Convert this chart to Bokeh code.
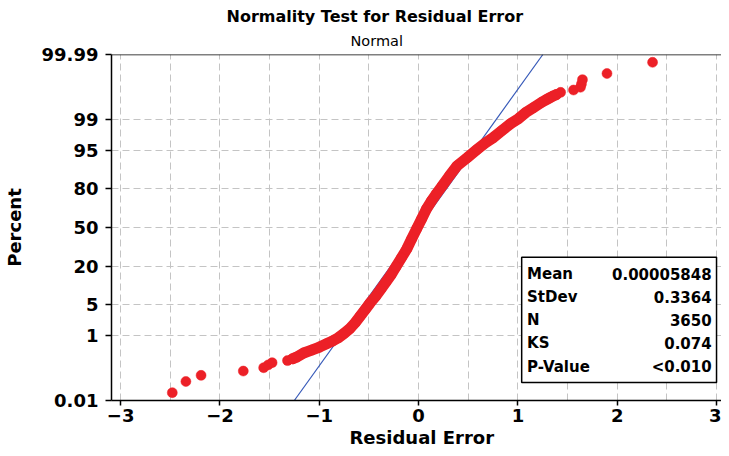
from statistics import NormalDist
from bokeh.plotting import figure
from bokeh.models import FixedTicker, Range1d, Title, BoxAnnotation, Label, Span
from bokeh.embed import file_html
from bokeh.resources import INLINE

# ---- data ----
# cumulative percent (probability-plot position) of each plotted residual
pct = [0.0192, 0.0466, 0.0740, 0.1014, 0.1288, 0.1561, 0.1835, 0.2109, 0.2383, 0.2657,
       0.35, 0.42, 0.51, 0.62, 0.73, 0.89, 1.15, 1.52, 2.04, 2.84,
       3.88, 5.21, 6.88, 9.29, 12.06, 15.35, 19.8, 25.6, 32.2, 40.3,
       48.8, 57.3, 65.6, 71.7, 76.5, 81.5, 86.9, 90.8, 93.3, 95.3,
       96.5, 97.3, 98.13, 98.72, 99.04, 99.32, 99.50, 99.64, 99.71,
       99.7343, 99.7617, 99.7891, 99.8165, 99.8439, 99.8713, 99.8986, 99.9260, 99.9534, 99.9808]
resid = [-2.48, -2.343, -2.19, -1.765, -1.56, -1.515, -1.475, -1.32, -1.27, -1.23,
         -1.157, -1.077, -0.997, -0.927, -0.867, -0.808, -0.748, -0.688, -0.638, -0.588,
         -0.538, -0.489, -0.434, -0.379, -0.329, -0.279, -0.229, -0.174, -0.119, -0.070,
         -0.020, 0.030, 0.080, 0.130, 0.179, 0.239, 0.314, 0.389, 0.489, 0.588,
         0.668, 0.748, 0.837, 0.927, 1.007, 1.077, 1.157, 1.236, 1.296,
         1.32, 1.35, 1.39, 1.43, 1.56, 1.63, 1.64, 1.65, 1.897, 2.356]

stat_names = ["Mean", "StDev", "N", "KS", "P-Value"]
stat_values = ["0.00005848", "0.3364", "3650", "0.074", "<0.010"]
mean = 0.00005848
stdev = 0.3364

x_ticks = [-3, -2, -1, 0, 1, 2, 3]
x_grid = [-3, -2.5, -2, -1.5, -1, -0.5, 0, 0.5, 1, 1.5, 2, 2.5, 3]
y_tick_pct = [0.01, 1, 5, 20, 50, 80, 95, 99, 99.99]
y_tick_labels = ["0.01", "1", "5", "20", "50", "80", "95", "99", "99.99"]

# ---- probability scale ----
nd = NormalDist()
def pz(v):
    return nd.inv_cdf(v / 100.0)

ys = [pz(v) for v in pct]
y_lo, y_hi = pz(0.01), pz(99.99)

RED = "#EC2027"
BLUE = "#3558B8"
FONT = "DejaVu Sans"

p = figure(width=721, height=448, output_backend="svg", toolbar_location=None,
           title=None,
           x_range=Range1d(-3.092, 3.05), y_range=Range1d(y_lo, y_hi),
           min_border_left=105, min_border_right=0, min_border_top=54, min_border_bottom=0,
           background_fill_color="white", border_fill_color="white")

p.add_layout(Title(text="Normal", align="left", offset=239, text_font=FONT,
                   text_font_size="14.5px", text_font_style="normal", text_color="black",
                   text_line_height=0.8, standoff=11), "above")
p.add_layout(Title(text="Normality Test for Residual Error", align="left", offset=115,
                   text_font=FONT, text_font_size="16px", text_font_style="bold",
                   text_color="black", standoff=0), "above")
p.add_layout(Title(text="Residual Error", align="left", offset=238,
                   text_font=FONT, text_font_size="18px", text_font_style="bold",
                   text_color="black", standoff=1), "below")

p.outline_line_color = None
p.add_layout(Span(location=y_hi, dimension="width", line_color="black", line_width=1.5))

# axes
for ax in (p.xaxis[0], p.yaxis[0]):
    ax.axis_line_color = "black"
    ax.axis_line_width = 1.5
    ax.major_tick_line_color = "black"
    ax.major_tick_line_width = 1.5
    ax.major_tick_out = 6
    ax.major_tick_in = 0
    ax.minor_tick_line_color = None
    ax.major_label_text_font = FONT
    ax.major_label_text_font_style = "bold"
    ax.major_label_text_font_size = "18px"
    ax.major_label_text_color = "black"
    ax.axis_label_text_font = FONT
    ax.axis_label_text_font_style = "bold"
    ax.axis_label_text_font_size = "18px"
    ax.axis_label_text_color = "black"

p.xaxis.ticker = FixedTicker(ticks=x_ticks)
p.xaxis.major_tick_out = 5
p.xaxis.major_label_text_line_height = 1.0
p.xaxis.major_label_standoff = 3

y_tick_z = [pz(v) for v in y_tick_pct]
p.yaxis.ticker = FixedTicker(ticks=y_tick_z)
p.yaxis.major_label_overrides = {z: s for z, s in zip(y_tick_z, y_tick_labels)}
p.yaxis.axis_label = "Percent"
p.yaxis.major_label_standoff = 7
p.yaxis.axis_label_standoff = 14

# grid
p.xgrid.ticker = FixedTicker(ticks=x_grid)
p.ygrid.ticker = FixedTicker(ticks=y_tick_z)
for g in (p.xgrid[0], p.ygrid[0]):
    g.grid_line_color = "#C4C4C4"
    g.grid_line_width = 1
    g.grid_line_dash = "7 4"

# fitted normal line (from the mean and stdev shown in the box)
fz = [y_lo, y_hi]
fx = [mean + z * stdev for z in fz]
p.line(fx, fz, line_color=BLUE, line_width=1.2)

# dense middle part of the sample drawn as a continuous band through the points
dense = [(x, y) for x, y, q in zip(resid, ys, pct) if 0.22 < q < 99.8]
p.line([d[0] for d in dense], [d[1] for d in dense], line_color=RED, line_width=11,
       line_join="round", line_cap="round")
p.scatter(resid, ys, size=10, fill_color=RED, line_color=RED, line_width=0.5)

# statistics box
p.add_layout(BoxAnnotation(left=1.038, right=3.0, top=-0.640, bottom=-3.334,
                           fill_color="white", fill_alpha=1.0,
                           line_color="black", line_width=1.5, line_alpha=1.0,
                           level="overlay"))
row_y = [-0.989, -1.489, -1.989, -2.489, -2.989]
for name, val, yy in zip(stat_names, stat_values, row_y):
    p.add_layout(Label(x=1.092, y=yy, text=name, text_align="left", text_baseline="middle",
                       text_font=FONT, text_font_style="bold", text_font_size="15px",
                       text_color="black", level="overlay"))
    p.add_layout(Label(x=2.951, y=yy, text=val, text_align="right", text_baseline="middle",
                       text_font=FONT, text_font_style="bold", text_font_size="15px",
                       text_color="black", level="overlay"))

open("out.html", "w").write(file_html(p, INLINE))
